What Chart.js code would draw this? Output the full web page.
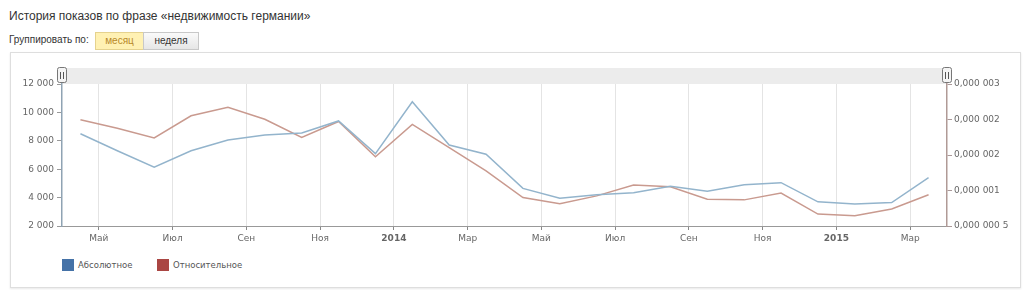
<!DOCTYPE html>
<html>
<head>
<meta charset="utf-8">
<script src="https://cdn.jsdelivr.net/npm/chart.js@4"></script>
<style>
    body { margin: 0; background: #fff; font-family: Arial, "Liberation Sans", sans-serif; width: 1024px; height: 290px; position: relative; overflow: hidden; }
    .title { position: absolute; left: 9px; top: 9px; font-size: 12px; color: #333; }
    .group { position: absolute; left: 9px; top: 34px; font-size: 10px; color: #333; }
    .btn { position: absolute; top: 32px; height: 16px; line-height: 16px; font-size: 10px; text-align: center; border: 1px solid #c8c8c8; }
    .btn-month { left: 95px; width: 47px; background: #fff1b3; color: #b8892a; border-color: #e5d28e; }
    .btn-week { left: 143px; width: 54px; background: linear-gradient(#fafafa, #e6e6e6); color: #333; }
    .box { position: absolute; left: 10px; top: 52px; width: 1009px; height: 234px; border: 1px solid #dedede; box-shadow: 0 1px 2px #e8e8e8; }
    #chart { position: absolute; left: 0; top: 52px; }
    .legend-item { position: absolute; top: 259px; font-family: "DejaVu Sans", Verdana, sans-serif; font-size: 8.5px; color: #555; line-height: 12px; }
    .legend-item span { display: inline-block; width: 12px; height: 12px; vertical-align: top; margin-right: 4px; }
</style>
</head>
<body>
<div class="title">История показов по фразе «недвижимость германии»</div>
<div class="group">Группировать по:</div>
<div class="btn btn-month">месяц</div>
<div class="btn btn-week">неделя</div>
<div class="box"></div>
<canvas id="chart" width="1024" height="200"></canvas>
<div class="legend-item" style="left:62px"><span style="background:#4572a7"></span>Абсолютное</div>
<div class="legend-item" style="left:157px"><span style="background:#aa4643"></span>Относительное</div>

<script>
// Months from Apr 2013 to Mar 2015
const months = ['Апр 2013', 'Май 2013', 'Июн 2013', 'Июл 2013', 'Авг 2013', 'Сен 2013',
    'Окт 2013', 'Ноя 2013', 'Дек 2013', 'Янв 2014', 'Фев 2014', 'Мар 2014',
    'Апр 2014', 'Май 2014', 'Июн 2014', 'Июл 2014', 'Авг 2014', 'Сен 2014',
    'Окт 2014', 'Ноя 2014', 'Дек 2014', 'Янв 2015', 'Фев 2015', 'Мар 2015'];

// Absolute shows
const absoluteValues = [8500, 7300, 6150, 7300, 8050, 8400, 8550, 9400, 7100, 10750, 7700, 7050,
    4650, 3950, 4200, 4350, 4800, 4450, 4900, 5050, 3700, 3550, 3650, 5400];

// Relative shows
const relativeValues = [2.37e-6, 2.22e-6, 2.05e-6, 2.44e-6, 2.59e-6, 2.38e-6, 2.06e-6, 2.34e-6,
    1.72e-6, 2.29e-6, 1.88e-6, 1.47e-6, 1.00e-6, 0.89e-6, 1.03e-6, 1.22e-6, 1.19e-6, 0.97e-6,
    0.96e-6, 1.08e-6, 0.71e-6, 0.68e-6, 0.80e-6, 1.05e-6];

// X axis labels, one every two months starting at May 2013
const tickLabels = ['Май', 'Июл', 'Сен', 'Ноя', '2014', 'Мар', 'Май', 'Июл', 'Сен', 'Ноя', '2015', 'Мар'];

const axisFont = { family: '"DejaVu Sans", Verdana, sans-serif', size: 9 };

function toPoints(values) {
    // each month is plotted at its middle
    return values.map((v, i) => ({ x: i + 0.5, y: v }));
}

function formatThousands(v) {
    return String(v).replace(/\B(?=(\d{3})+(?!\d))/g, ' ');
}

function formatSmall(v) {
    const r = Number(v.toPrecision(1));
    let s = r.toFixed(7).replace(/0+$/, '');
    const parts = s.split('.');
    const dec = (parts[1] || '').replace(/(\d{3})(?=\d)/g, '$1 ');
    return parts[0] + ',' + dec;
}

// Navigator band and handles above the plot
const navigatorPlugin = {
    id: 'navigator',
    beforeDraw(chart) {
        const { ctx, chartArea } = chart;
        ctx.save();
        ctx.fillStyle = '#ececec';
        ctx.fillRect(chartArea.left, chartArea.top - 16, chartArea.right - chartArea.left, 16);
        ctx.restore();
    },
    afterDraw(chart) {
        const { ctx, chartArea } = chart;
        [chartArea.left, chartArea.right].forEach(x => {
            ctx.save();
            ctx.fillStyle = '#f4f4f4';
            ctx.strokeStyle = '#777';
            ctx.lineWidth = 1;
            ctx.beginPath();
            ctx.roundRect(x - 4.5, chartArea.top - 16.5, 9, 15, 2);
            ctx.fill();
            ctx.stroke();
            ctx.strokeStyle = '#555';
            ctx.beginPath();
            ctx.moveTo(x - 1.5, chartArea.top - 12);
            ctx.lineTo(x - 1.5, chartArea.top - 5);
            ctx.moveTo(x + 1.5, chartArea.top - 12);
            ctx.lineTo(x + 1.5, chartArea.top - 5);
            ctx.stroke();
            ctx.restore();
        });
    }
};

const ctx = document.getElementById('chart').getContext('2d');
new Chart(ctx, {
    type: 'line',
    data: {
        datasets: [{
            label: 'Абсолютное',
            data: toPoints(absoluteValues),
            borderColor: '#93b4cc',
            borderWidth: 1.5,
            pointRadius: 0,
            tension: 0,
            yAxisID: 'y'
        }, {
            label: 'Относительное',
            data: toPoints(relativeValues),
            borderColor: '#c99a8f',
            borderWidth: 1.5,
            pointRadius: 0,
            tension: 0,
            yAxisID: 'y1'
        }]
    },
    options: {
        responsive: false,
        animation: false,
        layout: {
            padding: { top: 32, left: 0, right: 0, bottom: 0 }
        },
        plugins: {
            legend: { display: false },
            tooltip: { enabled: false }
        },
        scales: {
            x: {
                type: 'linear',
                min: 0,
                max: months.length,
                afterBuildTicks(scale) {
                    scale.ticks = tickLabels.map((l, i) => ({ value: 1 + 2 * i }));
                },
                afterFit(scale) { scale.height = 26; },
                grid: {
                    color: '#e4e4e4',
                    tickColor: '#888',
                    tickLength: 4
                },
                border: { color: '#999' },
                ticks: {
                    color: '#666',
                    padding: 3,
                    maxRotation: 0,
                    autoSkip: false,
                    font: ctx => {
                        const i = ctx.index;
                        return tickLabels[i] === '2014' || tickLabels[i] === '2015'
                            ? { ...axisFont, weight: 'bold' } : axisFont;
                    },
                    callback: (v, i) => tickLabels[i]
                }
            },
            y: {
                position: 'left',
                min: 2000,
                max: 12000,
                afterFit(scale) { scale.width = 62; },
                grid: {
                    drawOnChartArea: false,
                    color: '#999',
                    tickLength: 5
                },
                border: { color: '#8fa3b3', width: 1.5 },
                ticks: {
                    stepSize: 2000,
                    color: '#666',
                    padding: 3,
                    font: axisFont,
                    callback: v => formatThousands(v)
                }
            },
            y1: {
                position: 'right',
                min: 0.5e-6,
                max: 3e-6,
                afterFit(scale) { scale.width = 77; },
                grid: {
                    drawOnChartArea: false,
                    color: '#a99',
                    tickLength: 5
                },
                border: { color: '#b09a96', width: 1.5 },
                ticks: {
                    count: 5,
                    color: '#666',
                    padding: 2,
                    font: axisFont,
                    callback: v => formatSmall(v)
                }
            }
        }
    },
    plugins: [navigatorPlugin]
});
</script>
</body>
</html>
